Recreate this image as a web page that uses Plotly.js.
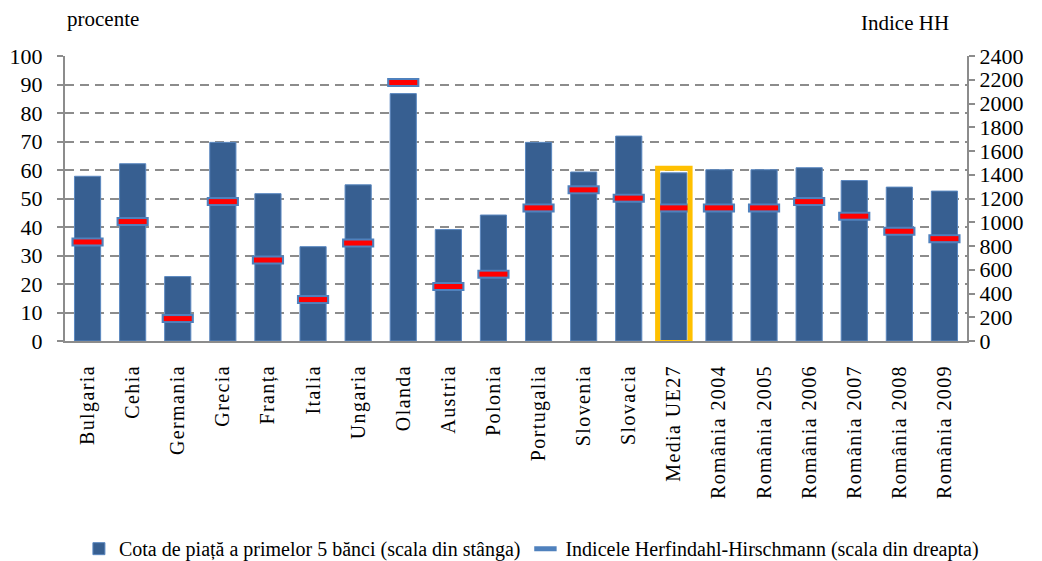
<!DOCTYPE html>
<html>
<head>
<meta charset="utf-8">
<script src="https://cdn.plot.ly/plotly-3.0.1.min.js"></script>
<style>
  html, body { margin: 0; padding: 0; background: #fff; }
  #graph { width: 1042px; height: 561px; }
  /* etichetele de categorii sunt rarite in original */
  #graph .xtick text { letter-spacing: 1.4px; }
</style>
</head>
<body>
<div id="graph"></div>
<script>
var tari = ['Bulgaria', 'Cehia', 'Germania', 'Grecia', 'Franța', 'Italia',
            'Ungaria', 'Olanda', 'Austria', 'Polonia', 'Portugalia', 'Slovenia',
            'Slovacia', 'Media UE27', 'România 2004', 'România 2005',
            'România 2006', 'România 2007', 'România 2008', 'România 2009'];
// cota primelor 5 banci, procente (scala din stanga)
var cota = [57.8, 62.2, 22.6, 69.7, 51.7, 33.1, 54.8, 86.8, 39.1, 44.2,
            69.7, 59.3, 71.9, 59.0, 60.1, 60.1, 60.8, 56.3, 54.0, 52.6];
// indicele Herfindahl-Hirschmann (scala din dreapta)
var hh = [834, 1006, 189, 1174, 682, 349, 825, 2177, 459, 563,
          1121, 1273, 1203, 1121, 1121, 1121, 1174, 1051, 924, 862];
var evidentiat = 'Media UE27';

var serif = 'Liberation Serif';
var idx = tari.indexOf(evidentiat);

var bare = {
  x: tari, y: cota, type: 'bar', name: 'Cota de piață a primelor 5 bănci (scala din stânga)',
  marker: {color: '#375F91', line: {color: '#5B88C0', width: 1}}
};
var hhContur = {
  x: tari, y: hh, yaxis: 'y2', type: 'scatter', mode: 'markers',
  name: 'Indicele Herfindahl-Hirschmann (scala din dreapta)',
  marker: {symbol: 'line-ew', size: 23, color: '#4F81BD', line: {color: '#4F81BD', width: 9}}
};
var hhRosu = {
  x: tari, y: hh, yaxis: 'y2', type: 'scatter', mode: 'markers', showlegend: false,
  marker: {symbol: 'line-ew', size: 20, color: '#FF0000', line: {color: '#FF0000', width: 5}}
};

var layout = {
  width: 1042, height: 561,
  margin: {l: 65, r: 75, t: 56, b: 220},
  paper_bgcolor: '#fff', plot_bgcolor: '#fff',
  font: {family: serif, color: '#000', size: 19},
  bargap: 0.42,
  showlegend: true,
  legend: {orientation: 'h', x: 0.51, xanchor: 'center', xref: 'container',
           y: 0.022, yanchor: 'middle', yref: 'container',
           font: {size: 20}, itemwidth: 30, traceorder: 'normal'},
  xaxis: {
    type: 'category', range: [-0.5, tari.length - 0.5], tickangle: -90, tickfont: {size: 20},
    showline: true, linecolor: '#8C8C8C', linewidth: 2,
    ticks: 'outside', ticklen: 14, tickcolor: 'rgba(0,0,0,0)', showgrid: false,
    automargin: false
  },
  yaxis: {
    range: [0, 100], dtick: 10, tickfont: {size: 22},
    showline: true, linecolor: '#8C8C8C', linewidth: 2,
    ticks: 'outside', ticklen: 6, tickcolor: '#8C8C8C', tickwidth: 2,
    ticklabelstandoff: 10,
    showgrid: true, gridcolor: '#8C8C8C', gridwidth: 2, griddash: '9px,6px',
    zeroline: false, automargin: false
  },
  yaxis2: {
    range: [0, 2400], dtick: 200, overlaying: 'y', side: 'right', tickfont: {size: 22},
    showline: true, linecolor: '#8C8C8C', linewidth: 2,
    ticks: 'outside', ticklen: 6, tickcolor: '#8C8C8C', tickwidth: 2,
    showgrid: false, zeroline: false, automargin: false
  },
  shapes: [{
    type: 'rect', xref: 'x', yref: 'y',
    x0: idx - 0.36, x1: idx + 0.36, y0: -0.5, y1: cota[idx] + 1.6,
    line: {color: '#FFC000', width: 5}
  }],
  annotations: [
    {text: 'procente', xref: 'paper', yref: 'paper', x: 0, xanchor: 'left',
     y: 1.13, yanchor: 'middle', showarrow: false, font: {size: 21}},
    {text: 'Indice HH', xref: 'paper', yref: 'paper', x: 1, xanchor: 'right', xshift: -16,
     y: 1.115, yanchor: 'middle', showarrow: false, font: {size: 21}}
  ]
};

Plotly.newPlot('graph', [bare, hhContur, hhRosu], layout, {displayModeBar: false, staticPlot: true});
</script>
</body>
</html>
